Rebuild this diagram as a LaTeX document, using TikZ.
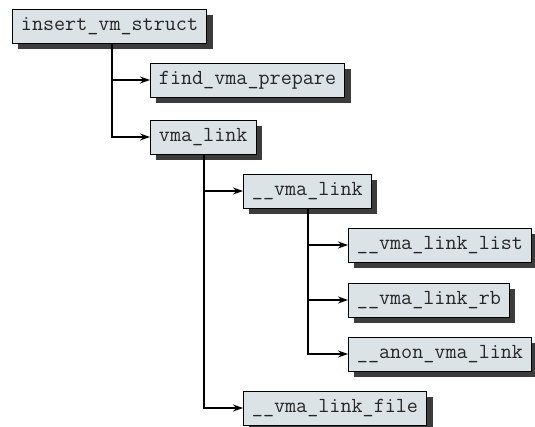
\documentclass[tikz,border=0pt]{standalone}
\usepackage{fontspec}
\usetikzlibrary{arrows.meta,shadows}
\definecolor{boxfill}{HTML}{DCE3E6}
\definecolor{shadowc}{HTML}{3C3C3C}
\tikzset{
  fn/.style={draw=black, line width=0.9pt, fill=boxfill, anchor=west,
    minimum height=34pt, inner xsep=8.5pt, inner ysep=0pt,
    font=\fontsize{21.5}{21.5}\selectfont\ttfamily, text=black!85,
    text height=13pt, text depth=4pt,
    drop shadow={shadow xshift=6pt, shadow yshift=-6pt, fill=shadowc, opacity=1}},
  link/.style={line width=1.3pt, -{Stealth[length=10pt,width=7pt]}}
}
\begin{document}
\begin{tikzpicture}[x=1pt,y=-1pt]
\useasboundingbox (0,0) rectangle (535,427);
\node[fn] (ivs) at (12,26) {insert\_vm\_struct};
\node[fn] (fvp) at (150,80) {find\_vma\_prepare};
\node[fn] (vl)  at (150,137) {vma\_link};
\node[fn] (uvl) at (243,191) {\_\_vma\_link};
\node[fn] (vll) at (348,245) {\_\_vma\_link\_list};
\node[fn] (vlr) at (348,300) {\_\_vma\_link\_rb};
\node[fn] (avl) at (348,354) {\_\_anon\_vma\_link};
\node[fn] (vlf) at (243,408) {\_\_vma\_link\_file};
\coordinate (t1) at (112,0);
\coordinate (t2) at (204,0);
\coordinate (t3) at (308,0);
\draw[link] (ivs.south -| t1) |- (fvp.west);
\draw[link] (ivs.south -| t1) |- (vl.west);
\draw[link] (vl.south -| t2) |- (uvl.west);
\draw[link] (vl.south -| t2) |- (vlf.west);
\draw[link] (uvl.south -| t3) |- (vll.west);
\draw[link] (uvl.south -| t3) |- (vlr.west);
\draw[link] (uvl.south -| t3) |- (avl.west);
\end{tikzpicture}
\end{document}
